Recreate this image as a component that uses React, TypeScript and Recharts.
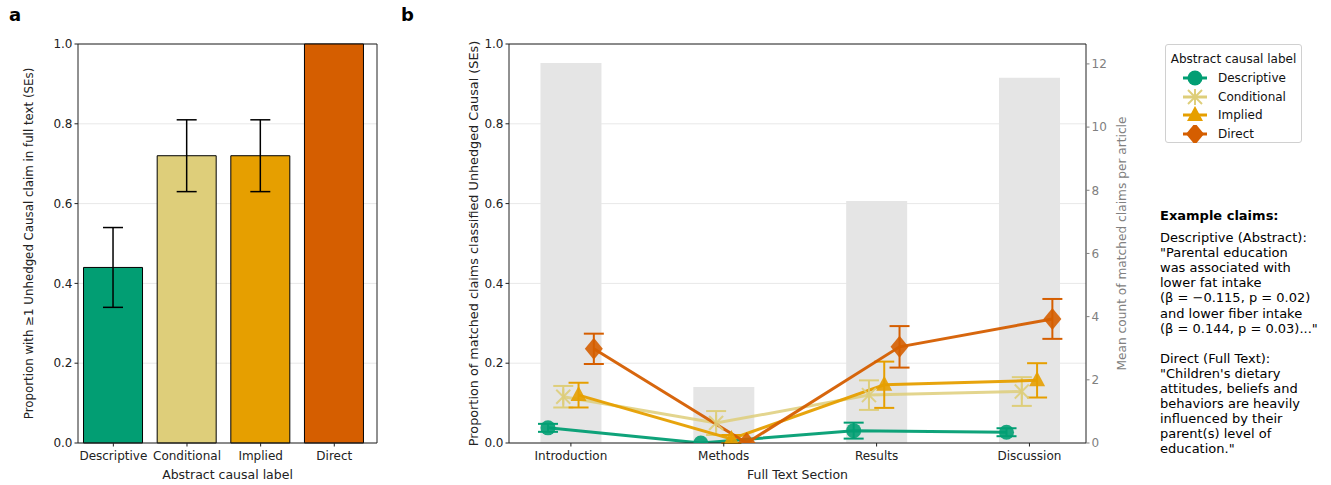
import React from "react";
import {
  ComposedChart,
  Bar,
  Line,
  XAxis,
  YAxis,
  CartesianGrid,
  ErrorBar,
  Cell,
} from "recharts";

const labels = ["Descriptive", "Conditional", "Implied", "Direct"];
const labelColors = ["#029E73", "#DECE7A", "#E69F00", "#D55E00"];
const abstractProp = [0.44, 0.72, 0.72, 1.0];
const abstractErr = [0.1, 0.09, 0.09, 0];

const sections = ["Introduction", "Methods", "Results", "Discussion"];
const meanCounts = [12.03, 1.77, 7.66, 11.56];

const descriptiveVals = [0.038, 0.0, 0.031, 0.027];
const descriptiveErr = [0.01, 0.0, 0.02, 0.01];
const conditionalVals = [0.116, 0.05, 0.12, 0.129];
const conditionalErr = [0.027, 0.03, 0.037, 0.036];
const impliedVals = [0.12, 0.01, 0.146, 0.157];
const impliedErr = [0.031, 0.01, 0.058, 0.043];
const directVals = [0.236, 0.0, 0.241, 0.311];
const directErr = [0.038, 0.0, 0.052, 0.05];

const offsets = [-0.15, -0.05, 0.05, 0.15];
const leftTicks = [0, 0.2, 0.4, 0.6, 0.8, 1.0];
const rightTicks = [0, 2, 4, 6, 8, 10, 12];
const xDomainB: [number, number] = [-0.405, 3.37];

const font = "'DejaVu Sans', sans-serif";

const barData = labels.map((name, i) => ({
  x: i,
  name,
  value: abstractProp[i],
  err: abstractErr[i],
}));

const countData = sections.map((name, i) => ({ x: i, name, count: meanCounts[i] }));

const seriesVals = [descriptiveVals, conditionalVals, impliedVals, directVals];
const seriesErr = [descriptiveErr, conditionalErr, impliedErr, directErr];
const series = labels.map((name, s) => ({
  name,
  color: labelColors[s],
  data: sections.map((sec, i) => ({
    x: i + offsets[s],
    y: seriesVals[s][i],
    err: seriesErr[s][i],
  })),
}));

function Marker({ kind, cx, cy, color }: { kind: number; cx: number; cy: number; color: string }) {
  if (kind === 0) return <circle cx={cx} cy={cy} r={7.5} fill={color} />;
  if (kind === 1)
    return (
      <g stroke={color} strokeWidth={2}>
        <line x1={cx - 7} y1={cy - 7} x2={cx + 7} y2={cy + 7} />
        <line x1={cx - 7} y1={cy + 7} x2={cx + 7} y2={cy - 7} />
        <line x1={cx} y1={cy - 8} x2={cx} y2={cy + 8} />
      </g>
    );
  if (kind === 2)
    return <polygon points={`${cx},${cy - 9} ${cx + 8},${cy + 6} ${cx - 8},${cy + 6}`} fill={color} />;
  return <polygon points={`${cx},${cy - 11} ${cx + 9},${cy} ${cx},${cy + 11} ${cx - 9},${cy}`} fill={color} />;
}

const tickStyle = { fontSize: 12, fill: "#222", fontFamily: font };
const grayTick = { fontSize: 12, fill: "#808080", fontFamily: font };
const labelStyle = { fontSize: 12.5, fill: "#222", fontFamily: font };

export default function App() {
  return (
    <div style={{ position: "relative", width: 1331, height: 485, fontFamily: font, background: "#fff" }}>
      <style>{`body{margin:0}`}</style>
      <div style={{ position: "absolute", left: 9, top: 4, fontSize: 18, fontWeight: "bold" }}>a</div>
      <div style={{ position: "absolute", left: 401, top: 4, fontSize: 18, fontWeight: "bold" }}>b</div>

      <div style={{ position: "absolute", left: 0, top: 0 }}>
        <ComposedChart width={400} height={485} data={barData} margin={{ top: 44, right: 23, bottom: 6, left: 0 }}>
          <CartesianGrid vertical={false} stroke="#e8e8e8" />
          <XAxis
            dataKey="x"
            type="number"
            domain={[-0.48, 3.58]}
            ticks={[0, 1, 2, 3]}
            tickFormatter={(v: number) => labels[v]}
            tick={tickStyle}
            tickSize={3.5}
            tickMargin={5}
            stroke="#222"
            height={36}
            allowDataOverflow
            label={{ value: "Abstract causal label", position: "insideBottom", offset: 0, style: labelStyle }}
          />
          <YAxis
            domain={[0, 1]}
            ticks={leftTicks}
            tickFormatter={(v: number) => v.toFixed(1)}
            tick={tickStyle}
            tickSize={3.5}
            stroke="#222"
            width={78}
            label={{
              value: "Proportion with ≥1 Unhedged Causal claim in full text (SEs)",
              angle: -90,
              position: "insideLeft",
              offset: 29,
              style: { ...labelStyle, fontSize: 11.8, textAnchor: "middle" },
            }}
          />
          <Bar dataKey="value" barSize={59} stroke="#000" strokeWidth={1} isAnimationActive={false}>
            {barData.map((d, i) => (
              <Cell key={d.name} fill={labelColors[i]} />
            ))}
            <ErrorBar dataKey="err" direction="y" width={10} stroke="#000" strokeWidth={1.5} />
          </Bar>
          <line x1={377} y1={44} x2={377} y2={443} stroke="#222" />
          <line x1={78} y1={44} x2={377} y2={44} stroke="#222" />
        </ComposedChart>
      </div>

      <div style={{ position: "absolute", left: 420, top: 0 }}>
        <ComposedChart width={720} height={485} data={countData} margin={{ top: 44, right: 0, bottom: 6, left: 0 }}>
          <CartesianGrid vertical={false} stroke="#e8e8e8" yAxisId="left" />
          <XAxis
            dataKey="x"
            type="number"
            domain={xDomainB}
            ticks={[0, 1, 2, 3]}
            tickFormatter={(v: number) => sections[v]}
            tick={tickStyle}
            tickSize={3.5}
            tickMargin={5}
            stroke="#222"
            height={36}
            allowDataOverflow
            label={{ value: "Full Text Section", position: "insideBottom", offset: 0, style: labelStyle }}
          />
          <XAxis xAxisId="pts" dataKey="x" type="number" domain={xDomainB} allowDataOverflow hide />
          <YAxis
            yAxisId="left"
            domain={[0, 1]}
            ticks={leftTicks}
            tickFormatter={(v: number) => v.toFixed(1)}
            tick={tickStyle}
            tickSize={3.5}
            stroke="#222"
            width={89}
            allowDataOverflow
            label={{
              value: "Proportion of matched claims classified Unhedged Causal (SEs)",
              angle: -90,
              position: "insideLeft",
              offset: 53,
              style: { ...labelStyle, fontSize: 12.8, textAnchor: "middle" },
            }}
          />
          <YAxis
            yAxisId="right"
            orientation="right"
            domain={[0, 12.63]}
            ticks={rightTicks}
            tick={grayTick}
            tickSize={3.5}
            stroke="#222"
            tickLine={{ stroke: "#808080" }}
            width={54}
            allowDataOverflow
            label={{
              value: "Mean count of matched claims per article",
              angle: -90,
              position: "insideRight",
              offset: 18,
              style: { ...labelStyle, fontSize: 12.2, fill: "#808080", textAnchor: "middle" },
            }}
          />
          <Bar yAxisId="right" dataKey="count" barSize={61} fill="#e5e5e5" isAnimationActive={false} />
          {series.map((s, k) => (
            <Line
              key={s.name}
              yAxisId="left"
              xAxisId="pts"
              data={s.data}
              dataKey="y"
              stroke={s.color}
              strokeOpacity={k === 1 ? 0.85 : 0.95}
              strokeWidth={3}
              isAnimationActive={false}
              dot={(p: any) => (
                <g key={`${s.name}-${p.index}`} opacity={0.9}>
                  <Marker kind={k} cx={p.cx} cy={p.cy} color={s.color} />
                </g>
              )}
              activeDot={false}
            >
              <ErrorBar dataKey="err" direction="y" width={10} stroke={s.color} strokeWidth={2} />
            </Line>
          ))}
          <line x1={89} y1={44} x2={666} y2={44} stroke="#222" />
        </ComposedChart>
      </div>

      <div
        style={{
          position: "absolute",
          left: 1165,
          top: 44,
          width: 135,
          height: 97,
          border: "1px solid #d0d0d0",
          borderRadius: 3,
          fontSize: 12,
          color: "#111",
        }}
      >
        <div style={{ textAlign: "center", marginTop: 7, marginBottom: 3 }}>Abstract causal label</div>
        {labels.map((name, k) => (
          <div key={name} style={{ display: "flex", alignItems: "center", height: 18.5, marginLeft: 15 }}>
            <svg width={28} height={18}>
              <line x1={2} y1={9} x2={26} y2={9} stroke={labelColors[k]} strokeWidth={3} />
              <Marker kind={k} cx={14} cy={9} color={labelColors[k]} />
            </svg>
            <span style={{ marginLeft: 9 }}>{name}</span>
          </div>
        ))}
      </div>

      <div style={{ position: "absolute", left: 1160, top: 208, fontSize: 13, color: "#000", lineHeight: "15.1px" }}>
        <div style={{ fontWeight: "bold", marginBottom: 7 }}>Example claims:</div>
        <div>Descriptive (Abstract):</div>
        <div>"Parental education</div>
        <div>was associated with</div>
        <div>lower fat intake</div>
        <div>(β = −0.115, p = 0.02)</div>
        <div>and lower fiber intake</div>
        <div>(β = 0.144, p = 0.03)..."</div>
        <div style={{ height: 15.1 }} />
        <div>Direct (Full Text):</div>
        <div>"Children's dietary</div>
        <div>attitudes, beliefs and</div>
        <div>behaviors are heavily</div>
        <div>influenced by their</div>
        <div>parent(s) level of</div>
        <div>education."</div>
      </div>
    </div>
  );
}
